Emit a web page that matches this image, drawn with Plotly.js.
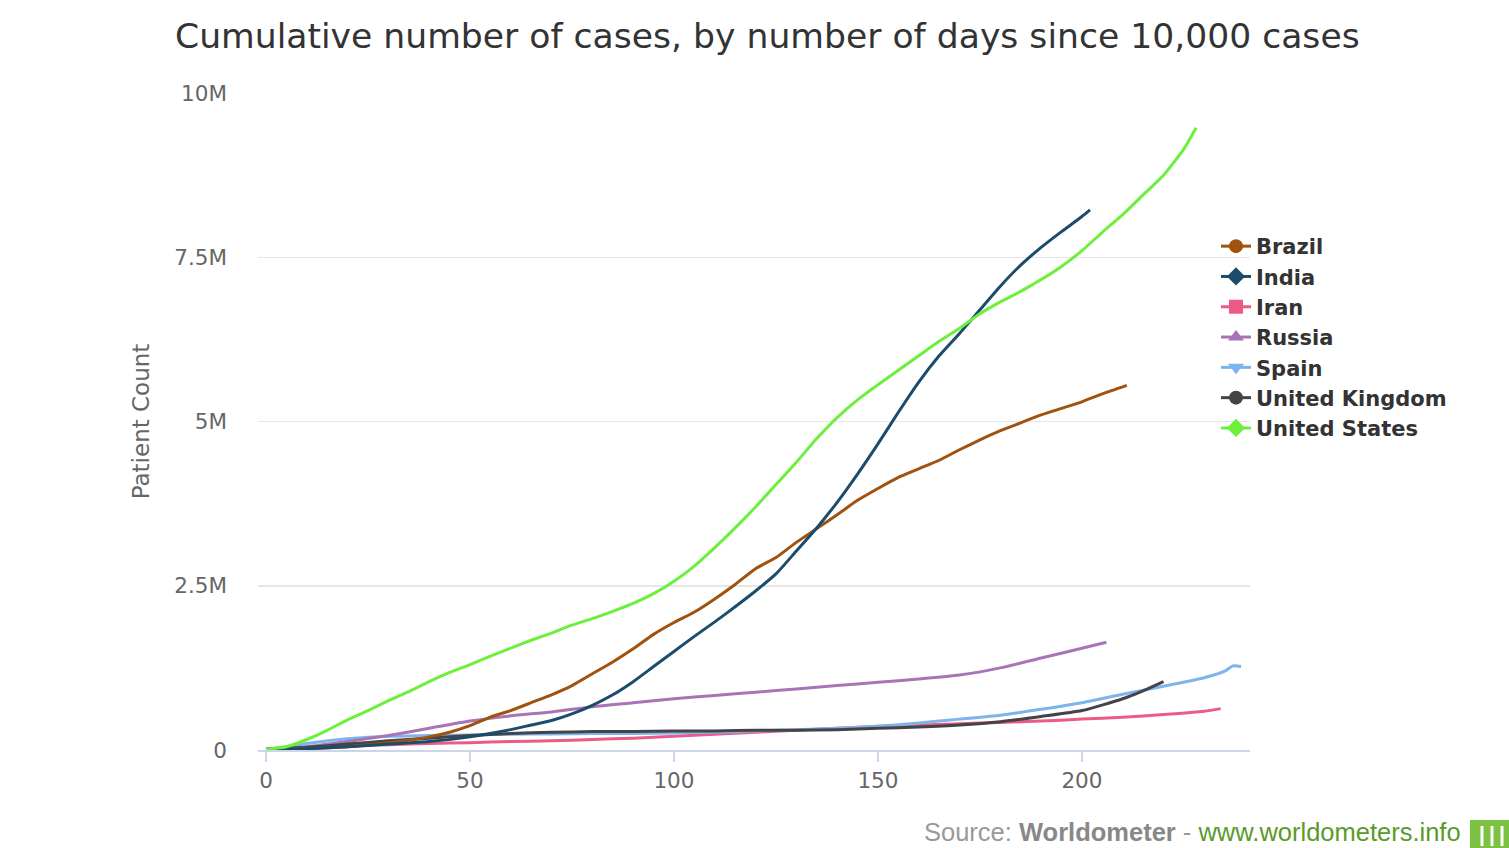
<!DOCTYPE html>
<html>
<head>
<meta charset="utf-8">
<script src="https://cdn.plot.ly/plotly-3.0.1.min.js"></script>
<style>
html,body{margin:0;padding:0;background:#fff;}
#chart{width:1509px;height:848px;}
</style>
</head>
<body>
<div id="chart"></div>
<script>
// Days since 10,000 cases and cumulative cases (millions)
var brazilDays = [0,10,20,30,40,45,50,55,60,65,70,75,80,85,90,95,100,105,110,115,120,125,130,135,140,145,150,155,160,165,170,175,180,185,190,195,200,205,211];
var brazilCases = [0,0.02,0.05,0.11,0.2,0.27,0.37,0.5,0.6,0.72,0.84,0.98,1.16,1.34,1.54,1.76,1.94,2.1,2.3,2.52,2.76,2.93,3.16,3.37,3.58,3.8,3.98,4.15,4.28,4.41,4.57,4.72,4.86,4.98,5.1,5.2,5.3,5.42,5.55];

var indiaDays = [0,10,20,30,40,50,60,65,70,75,80,85,90,95,100,105,110,115,120,125,130,135,140,145,150,155,160,165,170,175,180,185,190,195,200,202];
var indiaCases = [0,0.02,0.05,0.09,0.13,0.2,0.31,0.38,0.45,0.55,0.68,0.84,1.04,1.27,1.5,1.73,1.95,2.18,2.42,2.68,3.03,3.38,3.77,4.2,4.66,5.14,5.6,6.0,6.34,6.7,7.06,7.38,7.65,7.89,8.12,8.22];

var iranDays = [0,10,20,30,40,50,60,70,80,90,100,110,120,130,140,150,160,170,180,190,200,210,220,230,234];
var iranCases = [0.01,0.03,0.06,0.08,0.1,0.11,0.13,0.14,0.16,0.18,0.21,0.24,0.27,0.3,0.33,0.36,0.38,0.4,0.42,0.44,0.47,0.5,0.54,0.59,0.63];

var russiaDays = [0,10,20,30,40,50,60,70,80,90,100,110,120,130,140,150,160,170,180,190,200,206];
var russiaCases = [0.01,0.05,0.13,0.22,0.33,0.44,0.52,0.58,0.66,0.72,0.78,0.83,0.88,0.93,0.98,1.03,1.08,1.14,1.25,1.4,1.55,1.64];

var spainDays = [0,5,10,20,30,40,50,60,70,80,90,100,110,120,130,140,150,160,170,180,190,200,210,220,230,235,237,239];
var spainCases = [0.01,0.05,0.1,0.17,0.21,0.22,0.23,0.24,0.245,0.25,0.25,0.26,0.27,0.29,0.31,0.33,0.36,0.41,0.47,0.53,0.62,0.72,0.85,0.97,1.1,1.2,1.28,1.27];

var ukDays = [0,10,20,30,40,50,60,70,80,90,100,110,120,130,140,150,160,170,180,190,200,210,215,220];
var ukCases = [0.01,0.04,0.09,0.14,0.18,0.22,0.25,0.27,0.28,0.28,0.29,0.29,0.3,0.3,0.31,0.33,0.35,0.38,0.43,0.51,0.6,0.78,0.9,1.04];

var usDays = [0,5,10,15,20,25,30,35,40,45,50,55,60,65,70,75,80,85,90,95,100,105,110,115,120,125,130,135,140,145,150,155,160,165,170,175,180,185,190,195,200,205,210,215,220,225,228];
var usCases = [0.01,0.05,0.16,0.3,0.46,0.6,0.75,0.89,1.04,1.18,1.3,1.43,1.55,1.67,1.78,1.9,2.0,2.11,2.23,2.38,2.57,2.8,3.08,3.38,3.7,4.04,4.38,4.74,5.06,5.33,5.56,5.78,6.0,6.22,6.42,6.64,6.82,6.98,7.16,7.36,7.6,7.88,8.15,8.45,8.75,9.15,9.47];

var yTickVals = [0,2.5,5,7.5,10];
var yTickText = ['0','2.5M','5M','7.5M','10M'];
var xTickVals = [0,50,100,150,200];

var series = [
  {name:'Brazil', x:brazilDays, y:brazilCases, color:'#a0520f', symbol:'circle'},
  {name:'India', x:indiaDays, y:indiaCases, color:'#1b4c6c', symbol:'diamond'},
  {name:'Iran', x:iranDays, y:iranCases, color:'#ec5b85', symbol:'square'},
  {name:'Russia', x:russiaDays, y:russiaCases, color:'#a974b6', symbol:'triangle-up'},
  {name:'Spain', x:spainDays, y:spainCases, color:'#7cb5ec', symbol:'triangle-down'},
  {name:'United Kingdom', x:ukDays, y:ukCases, color:'#434348', symbol:'circle'},
  {name:'United States', x:usDays, y:usCases, color:'#6cf03c', symbol:'diamond'}
];

var traces = [];
var drawOrder = ['Iran','Spain','Russia','United Kingdom','Brazil','India','United States'];
drawOrder.forEach(function(n){
  var s = series.filter(function(t){return t.name===n;})[0];
  traces.push({
    type:'scatter', mode:'lines', x:s.x, y:s.y, name:s.name,
    line:{color:s.color, width:3, shape:'spline', smoothing:0.6},
    showlegend:false, legendgroup:s.name, hoverinfo:'x+y+name'
  });
});
series.forEach(function(s){
  traces.push({
    type:'scatter', mode:'lines+markers', x:[null], y:[null], name:s.name,
    line:{color:s.color, width:3},
    marker:{color:s.color, symbol:s.symbol, size:14},
    showlegend:true, legendgroup:s.name
  });
});

var PW = 992, PH = 657, PL = 258, PB = 750;
function px(xp){return (xp-PL)/PW;}
function py(yp){return (PB-yp)/PH;}

var layout = {
  width:1509, height:848,
  paper_bgcolor:'#ffffff', plot_bgcolor:'#ffffff',
  margin:{l:258, r:259, t:93, b:98, pad:0, autoexpand:false},
  font:{family:'DejaVu Sans, Verdana, sans-serif', color:'#666666'},
  title:{
    text:'Cumulative number of cases, by number of days since 10,000 cases',
    font:{family:'DejaVu Sans, Verdana, sans-serif', size:34.6, color:'#333333'},
    xref:'container', yref:'container', x:175/1509, xanchor:'left', y:1-36/848, yanchor:'middle'
  },
  xaxis:{
    range:[-1.96,241.2], tickvals:xTickVals, ticktext:xTickVals.map(String),
    showgrid:false, zeroline:false, showline:true, linecolor:'#ccd6eb', linewidth:2,
    ticks:'outside', ticklen:10, tickcolor:'#ccd6eb', tickwidth:2,
    tickfont:{size:21.5, color:'#666666'}, fixedrange:true
  },
  yaxis:{
    range:[0,10], tickvals:yTickVals, ticktext:yTickText,
    showgrid:true, gridcolor:'#e6e6e6', gridwidth:1.5, zeroline:false, showline:false,
    ticks:'', tickfont:{size:21.5, color:'#666666'}, ticklabelstandoff:30,
    title:{text:'Patient Count', font:{size:23, color:'#666666'}, standoff:18}, fixedrange:true
  },
  legend:{
    xref:'paper', yref:'paper', x:px(1216), y:py(226), xanchor:'left', yanchor:'top',
    font:{family:'DejaVu Sans, Verdana, sans-serif', size:21, color:'#333333', weight:'bold'},
    bgcolor:'rgba(0,0,0,0)', tracegroupgap:0, itemwidth:30
  },
  showlegend:true,
  annotations:[{
    xref:'paper', yref:'paper', x:px(1463), y:py(832), xanchor:'right', yanchor:'middle',
    showarrow:false,
    text:'<span style="color:#999999">Source: </span><b><span style="color:#888888">Worldometer</span></b><span style="color:#999999"> - </span><span style="color:#5a9a2a">www.worldometers.info</span>',
    font:{family:'Liberation Sans, Arial, sans-serif', size:25.5}
  }],
  shapes:[
    {type:'rect', xref:'paper', yref:'paper', x0:px(1470), x1:px(1512), y0:py(848), y1:py(820), fillcolor:'#7cc242', line:{width:0}},
    {type:'line', xref:'paper', yref:'paper', x0:px(1482), x1:px(1482), y0:py(846), y1:py(826), line:{color:'#ffffff', width:3}},
    {type:'line', xref:'paper', yref:'paper', x0:px(1492), x1:px(1492), y0:py(846), y1:py(826), line:{color:'#ffffff', width:3}},
    {type:'line', xref:'paper', yref:'paper', x0:px(1502), x1:px(1502), y0:py(846), y1:py(826), line:{color:'#ffffff', width:3}}
  ]
};

Plotly.newPlot('chart', traces, layout, {displayModeBar:false, staticPlot:true});
</script>
</body>
</html>
